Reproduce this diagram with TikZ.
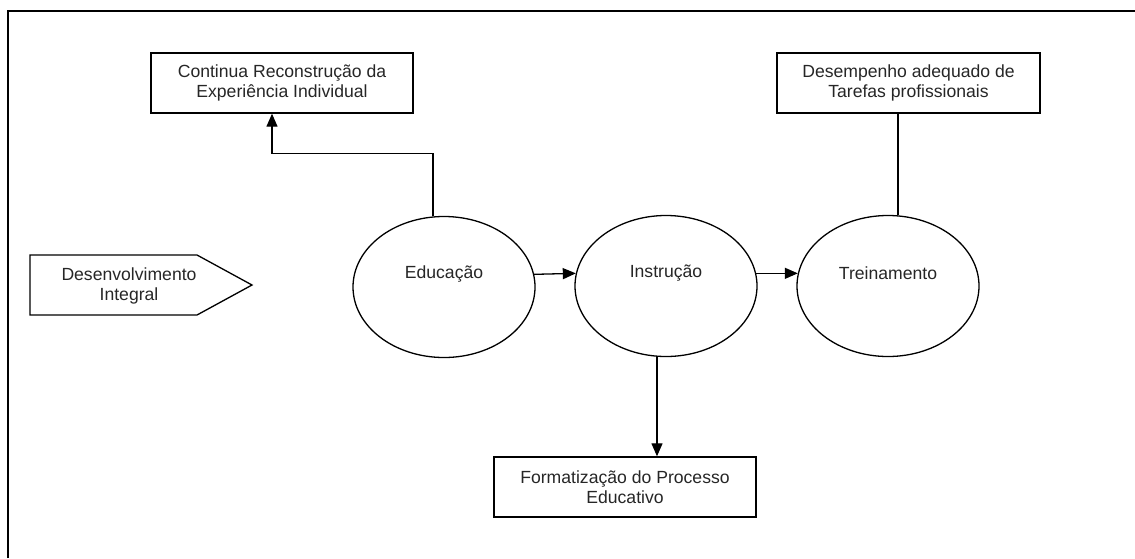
\documentclass[tikz,border=0pt]{standalone}
\usepackage{fontspec}
\setmainfont{Liberation Sans}
\usetikzlibrary{arrows.meta,shapes.geometric,calc}
\begin{document}
\begin{tikzpicture}[x=1pt,y=-1pt,
  every node/.style={font=\fontsize{17.6}{20}\selectfont, text=black!85},
  ell/.style={draw, ellipse, line width=1.3pt, minimum width=182pt, minimum height=141pt, inner sep=0pt},
  etext/.style={yshift=13pt},
  rbox/.style={draw, rectangle, line width=1.4pt, minimum width=262pt, minimum height=60pt, inner sep=0pt, align=center},
  arr/.style={line width=1.3pt, -{Triangle[length=13pt,width=11pt]}},
  conn/.style={line width=1.3pt}]
\useasboundingbox (0,0) rectangle (1135,558);
% outer frame (left and top edges)
\draw[line width=2pt] (8,558) -- (8,11) -- (1135,11);

% pentagon
\draw[line width=1.3pt] (30,255) -- (197,255) -- (252,285) -- (197,315) -- (30,315) -- cycle;
\node[align=center] (dev) at (129,286) {Desenvolvimento\\Integral};

% ellipses
\node[ell, label={[etext]center:Educação}] (edu) at (444,287) {};
\node[ell, label={[etext]center:Instrução}] (ins) at (666,286) {};
\node[ell, label={[etext]center:Treinamento}] (tre) at (888,286) {};

% boxes
\node[rbox] (cont) at (282,83) {Continua Reconstrução da\\Experiência Individual};
\node[rbox, minimum width=263pt] (des) at (908.5,83) {Desempenho adequado de\\Tarefas profissionais};
\node[rbox] (form) at (625,487) {Formatização do Processo\\Educativo};

% connectors
\draw[arr] (edu.8) -- (ins.172);
\draw[arr] (ins.8) -- (tre.172);
\draw[arr] ([xshift=-11pt]edu.north) |- ([xshift=-10pt,yshift=-40pt]cont.south) -- ([xshift=-10pt]cont.south);
\draw[arr] ([xshift=-9pt]ins.south) -- ([xshift=-9pt]ins.south |- form.north);
\draw[conn] ([xshift=10pt]tre.north) -- ([xshift=10pt]tre.north |- des.south);
\end{tikzpicture}
\end{document}
